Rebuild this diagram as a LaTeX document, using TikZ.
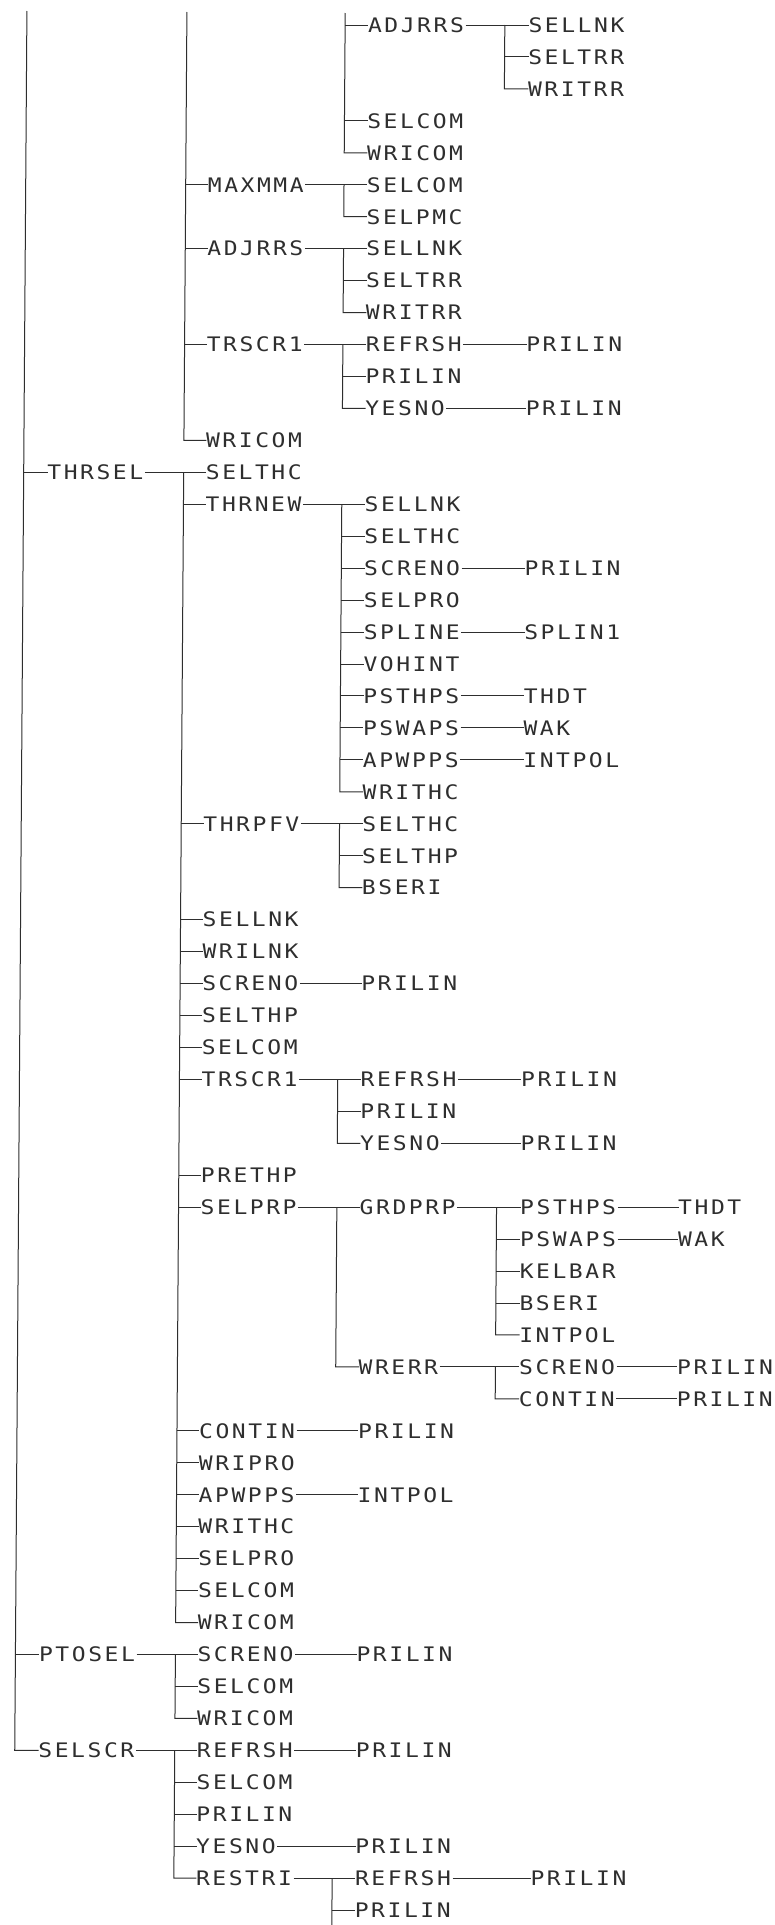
\documentclass[tikz,border=0pt]{standalone}
\usepackage{graphicx}
\usepackage{fontspec}
\newfontfamily\plotfont{DejaVu Sans Mono}
\definecolor{ink}{gray}{0.18}
\def\mono#1{\monoloop#1\relax}
\def\monoloop#1{\ifx\relax#1\else\makebox[16.4pt][c]{\scalebox{1.15}[1]{#1}}\expandafter\monoloop\fi}
\def\XA{51}\def\XB{209.5}\def\XC{368.5}\def\XD{529}\def\XE{687}
\def\SA{24}\def\SB{22.5}\def\SC{23.2}\def\SD{24}
\newcommand\nd[4]{\node[lbl] (#1) at (#2,{25+31.95*#3}) {\mono{#4}};}
\newcommand\lk[2]{\draw[ln] ([xshift=2pt]#1.east) -- (#2.west);}
\newcommand\vk[3]{\draw[ln] ([xshift=-#1pt]#2.west) -- ([xshift=-#1pt]#3.west) -- (#3.west);}
\newcommand\sk[2]{\draw[ln] ([xshift=-#1pt]#2.west) -- (#2.west);}
\tikzset{
  lbl/.style={anchor=west,inner xsep=-1.8pt,inner ysep=0pt,text height=14.6pt,text depth=0pt,
    font=\plotfont\fontsize{20pt}{20pt}\selectfont,text=ink},
  ln/.style={draw=ink,line width=1pt}
}
\begin{document}
\begin{tikzpicture}[x=1pt,y=-1pt]
\useasboundingbox (0,0) rectangle (774,1925);
\fill[white] (0,0) rectangle (774,1925);
\begin{scope}[cm={1,0,0.007,1,(0,0)}]
% ---------- top part (parent above the page) ----------
\nd{a0}{\XC}{0}{ADJRRS}
\nd{b0}{\XD}{0}{SELLNK}
\nd{b1}{\XD}{1}{SELTRR}
\nd{b2}{\XD}{2}{WRITRR}
\nd{c3}{\XC}{3}{SELCOM}
\nd{c4}{\XC}{4}{WRICOM}
\nd{m5}{\XB}{5}{MAXMMA}
\nd{m5a}{\XC}{5}{SELCOM}
\nd{m6}{\XC}{6}{SELPMC}
\nd{j7}{\XB}{7}{ADJRRS}
\nd{j7a}{\XC}{7}{SELLNK}
\nd{j8}{\XC}{8}{SELTRR}
\nd{j9}{\XC}{9}{WRITRR}
\nd{t10}{\XB}{10}{TRSCR1}
\nd{t10a}{\XC}{10}{REFRSH}
\nd{t10b}{\XD}{10}{PRILIN}
\nd{t11}{\XC}{11}{PRILIN}
\nd{t12}{\XC}{12}{YESNO}
\nd{t12b}{\XD}{12}{PRILIN}
\nd{w13}{\XB}{13}{WRICOM}
% ---------- THRSEL ----------
\nd{s14}{\XA}{14}{THRSEL}
\nd{k14}{\XB}{14}{SELTHC}
\nd{k15}{\XB}{15}{THRNEW}
\nd{n15}{\XC}{15}{SELLNK}
\nd{n16}{\XC}{16}{SELTHC}
\nd{n17}{\XC}{17}{SCRENO}
\nd{n17b}{\XD}{17}{PRILIN}
\nd{n18}{\XC}{18}{SELPRO}
\nd{n19}{\XC}{19}{SPLINE}
\nd{n19b}{\XD}{19}{SPLIN1}
\nd{n20}{\XC}{20}{VOHINT}
\nd{n21}{\XC}{21}{PSTHPS}
\nd{n21b}{\XD}{21}{THDT}
\nd{n22}{\XC}{22}{PSWAPS}
\nd{n22b}{\XD}{22}{WAK}
\nd{n23}{\XC}{23}{APWPPS}
\nd{n23b}{\XD}{23}{INTPOL}
\nd{n24}{\XC}{24}{WRITHC}
\nd{k25}{\XB}{25}{THRPFV}
\nd{p25}{\XC}{25}{SELTHC}
\nd{p26}{\XC}{26}{SELTHP}
\nd{p27}{\XC}{27}{BSERI}
\nd{k28}{\XB}{28}{SELLNK}
\nd{k29}{\XB}{29}{WRILNK}
\nd{k30}{\XB}{30}{SCRENO}
\nd{k30b}{\XC}{30}{PRILIN}
\nd{k31}{\XB}{31}{SELTHP}
\nd{k32}{\XB}{32}{SELCOM}
\nd{k33}{\XB}{33}{TRSCR1}
\nd{q33}{\XC}{33}{REFRSH}
\nd{q33b}{\XD}{33}{PRILIN}
\nd{q34}{\XC}{34}{PRILIN}
\nd{q35}{\XC}{35}{YESNO}
\nd{q35b}{\XD}{35}{PRILIN}
\nd{k36}{\XB}{36}{PRETHP}
\nd{k37}{\XB}{37}{SELPRP}
\nd{g37}{\XC}{37}{GRDPRP}
\nd{h37}{\XD}{37}{PSTHPS}
\nd{h37b}{\XE}{37}{THDT}
\nd{h38}{\XD}{38}{PSWAPS}
\nd{h38b}{\XE}{38}{WAK}
\nd{h39}{\XD}{39}{KELBAR}
\nd{h40}{\XD}{40}{BSERI}
\nd{h41}{\XD}{41}{INTPOL}
\nd{g42}{\XC}{42}{WRERR}
\nd{e42}{\XD}{42}{SCRENO}
\nd{e42b}{\XE}{42}{PRILIN}
\nd{e43}{\XD}{43}{CONTIN}
\nd{e43b}{\XE}{43}{PRILIN}
\nd{k44}{\XB}{44}{CONTIN}
\nd{k44b}{\XC}{44}{PRILIN}
\nd{k45}{\XB}{45}{WRIPRO}
\nd{k46}{\XB}{46}{APWPPS}
\nd{k46b}{\XC}{46}{INTPOL}
\nd{k47}{\XB}{47}{WRITHC}
\nd{k48}{\XB}{48}{SELPRO}
\nd{k49}{\XB}{49}{SELCOM}
\nd{k50}{\XB}{50}{WRICOM}
% ---------- PTOSEL ----------
\nd{o51}{\XA}{51}{PTOSEL}
\nd{o51a}{\XB}{51}{SCRENO}
\nd{o51b}{\XC}{51}{PRILIN}
\nd{o52}{\XB}{52}{SELCOM}
\nd{o53}{\XB}{53}{WRICOM}
% ---------- SELSCR ----------
\nd{z54}{\XA}{54}{SELSCR}
\nd{z54a}{\XB}{54}{REFRSH}
\nd{z54b}{\XC}{54}{PRILIN}
\nd{z55}{\XB}{55}{SELCOM}
\nd{z56}{\XB}{56}{PRILIN}
\nd{z57}{\XB}{57}{YESNO}
\nd{z57b}{\XC}{57}{PRILIN}
\nd{z58}{\XB}{58}{RESTRI}
\nd{r58}{\XC}{58}{REFRSH}
\nd{r58b}{544}{58}{PRILIN}
\nd{r59}{\XC}{59}{PRILIN}
% ---------- free ends ----------
\coordinate (topA) at (27,11);
\coordinate (topB) at (187,12);
\coordinate (topC) at (345.3,13);
\coordinate (botC) at (345.3,1925);
% ---------- connectors ----------
\draw[ln] (topA) -- ([xshift=-\SA pt]z54.west) -- (z54.west);
\sk{\SA}{s14}\sk{\SA}{o51}
\draw[ln] (topB) -- ([xshift=-\SB pt]w13.west) -- (w13.west);
\sk{\SB}{m5}\sk{\SB}{j7}\sk{\SB}{t10}
\draw[ln] (topC) -- ([xshift=-\SC pt]c4.west) -- (c4.west);
\sk{\SC}{a0}\sk{\SC}{c3}
\lk{a0}{b0}\vk{\SD}{b0}{b2}\sk{\SD}{b1}
\lk{m5}{m5a}\vk{\SC}{m5a}{m6}
\lk{j7}{j7a}\vk{\SC}{j7a}{j9}\sk{\SC}{j8}
\lk{t10}{t10a}\vk{\SC}{t10a}{t12}\sk{\SC}{t11}
\lk{t10a}{t10b}\lk{t12}{t12b}
\lk{s14}{k14}\vk{\SB}{k14}{k50}
\foreach \c in {k15,k25,k28,k29,k30,k31,k32,k33,k36,k37,k44,k45,k46,k47,k48,k49}{\sk{\SB}{\c}}
\lk{k15}{n15}\vk{\SC}{n15}{n24}
\foreach \c in {n16,n17,n18,n19,n20,n21,n22,n23}{\sk{\SC}{\c}}
\lk{n17}{n17b}\lk{n19}{n19b}\lk{n21}{n21b}\lk{n22}{n22b}\lk{n23}{n23b}
\lk{k25}{p25}\vk{\SC}{p25}{p27}\sk{\SC}{p26}
\lk{k30}{k30b}
\lk{k33}{q33}\vk{\SC}{q33}{q35}\sk{\SC}{q34}
\lk{q33}{q33b}\lk{q35}{q35b}
\lk{k37}{g37}\vk{\SC}{g37}{g42}
\lk{g37}{h37}\vk{\SD}{h37}{h41}
\foreach \c in {h38,h39,h40}{\sk{\SD}{\c}}
\lk{h37}{h37b}\lk{h38}{h38b}
\lk{g42}{e42}\vk{\SD}{e42}{e43}
\lk{e42}{e42b}\lk{e43}{e43b}
\lk{k44}{k44b}\lk{k46}{k46b}
\lk{o51}{o51a}\vk{\SB}{o51a}{o53}\sk{\SB}{o52}
\lk{o51a}{o51b}
\lk{z54}{z54a}\vk{\SB}{z54a}{z58}
\foreach \c in {z55,z56,z57}{\sk{\SB}{\c}}
\lk{z54a}{z54b}\lk{z57}{z57b}
\lk{z58}{r58}\draw[ln] ([xshift=-\SC pt]r58.west) -- (botC);
\sk{\SC}{r59}
\lk{r58}{r58b}
\end{scope}
\end{tikzpicture}
\end{document}
